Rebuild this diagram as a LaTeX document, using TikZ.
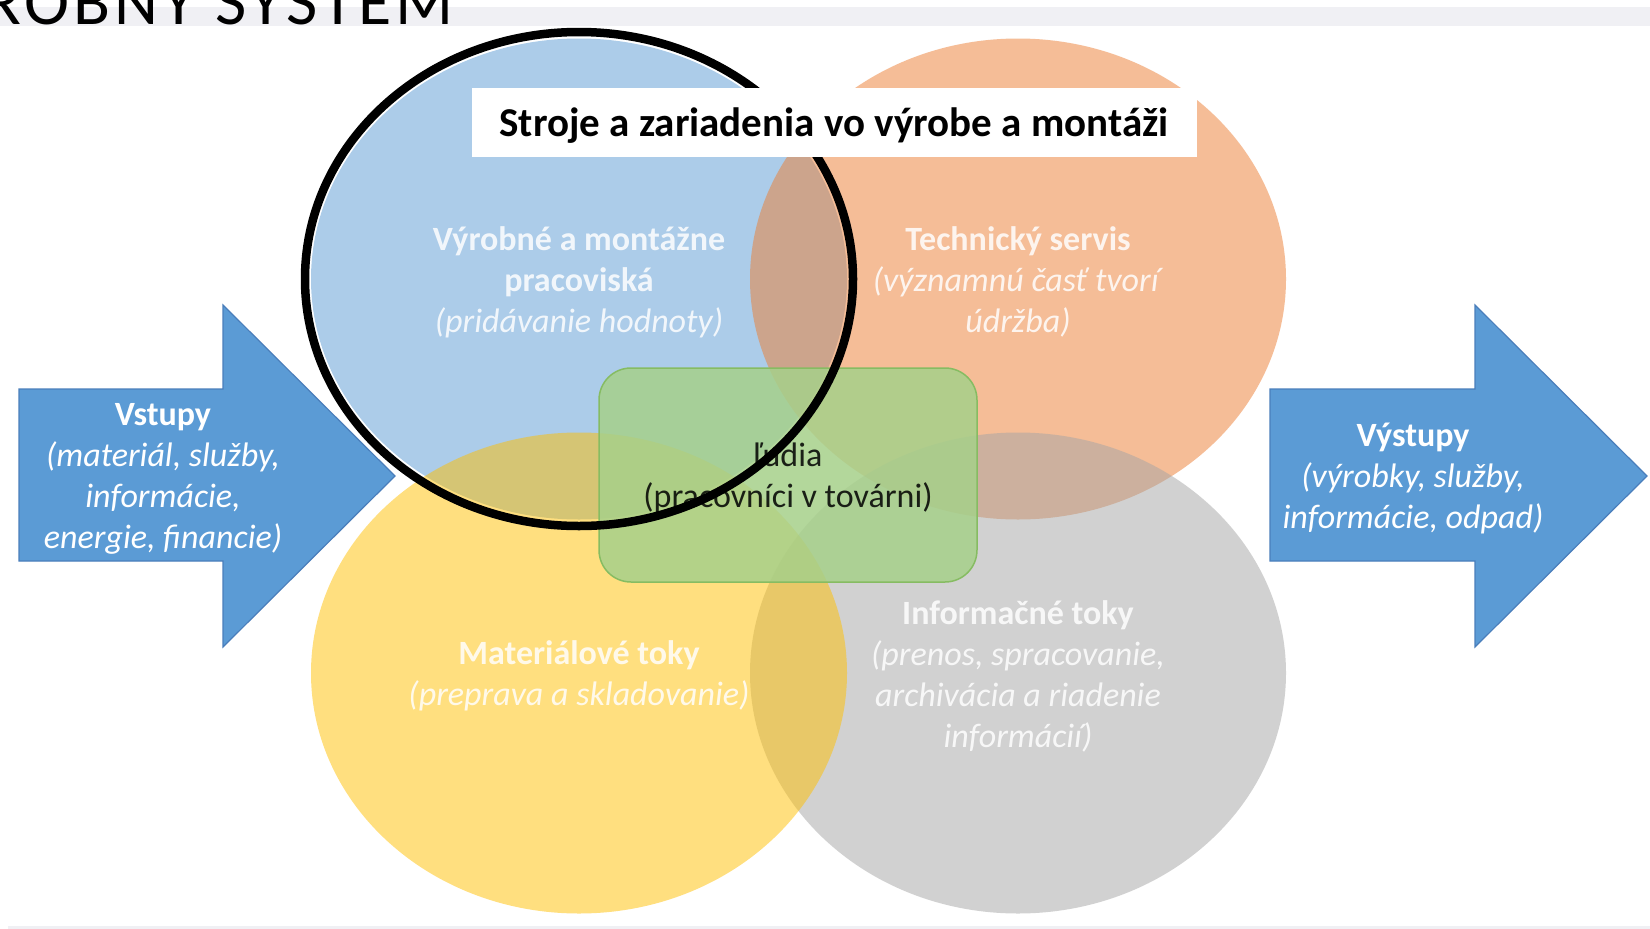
\documentclass[tikz,border=0pt]{standalone}
\usepackage{fontspec}
\setmainfont{Carlito}
\usetikzlibrary{shapes.geometric}

\definecolor{ofBlue}{HTML}{5B9BD5}
\definecolor{ofOrange}{HTML}{ED7D31}
\definecolor{ofGrey}{HTML}{A5A5A5}
\definecolor{ofYellow}{HTML}{FFC000}
\definecolor{boxGreen}{HTML}{A6D08A}
\definecolor{boxEdge}{HTML}{86BC62}
\definecolor{arrowBlue}{HTML}{5B9BD5}
\definecolor{arrowEdge}{HTML}{4A7EBB}
\definecolor{bandGrey}{HTML}{F0F0F4}

\tikzset{
  venn/.style={ellipse, inner sep=0pt, minimum width=536pt, minimum height=481pt,
    fill opacity=0.5},
  vennlabel/.style={text opacity=0.84, text=white, align=center,
    font=\fontsize{34}{41}\selectfont},
  flowarrow/.style={fill=arrowBlue, draw=arrowEdge, line width=1.2pt, line join=miter},
  arrowtext/.style={text=white, align=center, font=\fontsize{34}{41}\selectfont},
  peoplebox/.style={rectangle, rounded corners=32pt, minimum width=378pt, minimum height=214pt,
    fill=boxGreen, fill opacity=0.85, draw=boxEdge, line width=1.5pt},
  peopletext/.style={text=black, text opacity=0.85, align=center, font=\fontsize{34}{41}\selectfont},
  focusring/.style={draw=black, line width=8.5pt},
  headbox/.style={fill=white, inner sep=0pt, minimum width=725pt, minimum height=69pt,
    font=\fontsize{41}{46}\selectfont\bfseries}
}

\begin{document}
\begin{tikzpicture}[x=1pt, y=-1pt]
  \useasboundingbox (0,0) rectangle (1650,929);
  \fill[white] (0,0) rectangle (1650,929);

  % header and footer bands
  \fill[bandGrey] (0,7) rectangle (1650,26);
  \fill[bandGrey] (8,926) rectangle (1650,929);
  \begin{scope}
    \clip (0,0) rectangle (1650,929);
    \node[anchor=base west, inner sep=0pt, font=\fontsize{68}{68}\selectfont\addfontfeatures{LetterSpace=6}] (pagetitle) at (-16,24) {ROBNY SYSTEM};
  \end{scope}

  % input and output arrows
  \draw[flowarrow] (19,389) -- (223,389) -- (223,305) -- (395,476) -- (223,647) -- (223,561) -- (19,561) -- cycle;
  \node[arrowtext] (inputs) at (163,479)
    {\textbf{Vstupy}\\\textit{(materiál, služby,}\\\textit{informácie,}\\\textit{energie, financie)}};
  \draw[flowarrow] (1270,389) -- (1475,389) -- (1475,305) -- (1647,476) -- (1475,647) -- (1475,561) -- (1270,561) -- cycle;
  \node[arrowtext] (outputs) at (1413,478)
    {\textbf{Výstupy}\\\textit{(výrobky, služby,}\\\textit{informácie, odpad)}};

  % four overlapping areas of the production system
  \node[venn, fill=ofBlue] (workplaces) at (579,279) {};
  \node[venn, fill=ofOrange] (service) at (1018,279) {};
  \node[venn, fill=ofGrey] (infoflow) at (1018,673) {};
  \node[venn, fill=ofYellow] (matflow) at (579,673) {};

  \node[vennlabel] (workplaces-label) at ([yshift=-3pt]workplaces.center)
    {\textbf{Výrobné a montážne}\\\textbf{pracoviská}\\\textit{(pridávanie hodnoty)}};
  \node[vennlabel] (service-label) at ([yshift=-3pt]service.center)
    {\textbf{Technický servis}\\\textit{(významnú časť tvorí}\\\textit{údržba)}};
  \node[vennlabel] (infoflow-label) at ([yshift=-3pt]infoflow.center)
    {\textbf{Informačné toky}\\\textit{(prenos, spracovanie,}\\\textit{archivácia a riadenie}\\\textit{informácií)}};
  \node[vennlabel] (matflow-label) at ([yshift=-3pt]matflow.center)
    {\textbf{Materiálové toky}\\\textit{(preprava a skladovanie)}};

  % people in the centre
  \node[peoplebox] (people) at (788,475) {};
  \node[peopletext] (people-label) at ([yshift=-3pt]people.center) {ľudia\\(pracovníci v továrni)};

  % highlight ring around the workplaces
  \draw[focusring] (workplaces.center) ellipse [x radius=274pt, y radius=247pt];

  % caption of the highlighted area
  \node[headbox] (machines) at (834,122) {};
  \node[font=\fontsize{41}{46}\selectfont\bfseries, inner sep=0pt] (machines-label) at ([yshift=-4pt]machines.center) {Stroje a zariadenia vo výrobe a montáži};
\end{tikzpicture}
\end{document}
